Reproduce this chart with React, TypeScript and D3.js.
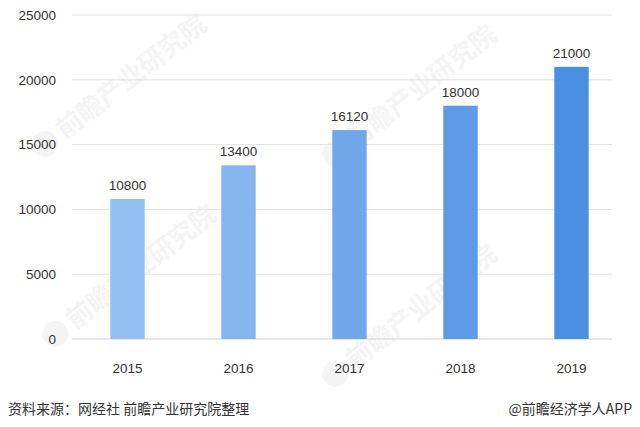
import React from "react";
import * as d3 from "d3";

const years = ["2015", "2016", "2017", "2018", "2019"];
const values = [10800, 13400, 16120, 18000, 21000];
const barColors = ["#94c0f1", "#86b5ee", "#71a7ea", "#5e9ae6", "#4b8fe3"];
const yTicks = [0, 5000, 10000, 15000, 20000, 25000];
const sourceText = "资料来源：网经社 前瞻产业研究院整理";
const brandText = "@前瞻经济学人APP";
const watermarkText = "前瞻产业研究院";

export default function App() {
  const W = 640, H = 427;
  const x = d3.scaleBand<string>().domain(years).range([72, 627]).paddingInner(0.69).paddingOuter(0.345);
  const y = d3.scaleLinear().domain([0, 25000]).range([339, 15]);
  const font = "'Liberation Sans', Arial, sans-serif";
  const cjk = "'Noto Sans CJK SC', sans-serif";
  const marks = [
    { x: 50, y: 140 }, { x: 340, y: 150 }, { x: 60, y: 330 }, { x: 340, y: 370 },
  ];
  return (
    <svg width={W} height={H} style={{ position: "absolute", left: 0, top: 0, background: "#fff" }}>
      <rect width={W} height={H} fill="#fff" />
      {marks.map((m, i) => (
        <g key={i} transform={`translate(${m.x},${m.y}) rotate(-38)`} opacity={0.07}>
          <circle cx={-6} cy={0} r={13} fill="#777" />
          <text x={12} y={9} fontFamily={cjk} fontSize={26} fill="#777" fontWeight="bold">{watermarkText}</text>
        </g>
      ))}
      {yTicks.map((t) => (
        <g key={t}>
          <line x1={72} x2={612} y1={y(t)} y2={y(t)} stroke={t === 0 ? "#d0d0d0" : "#e2e2e2"} strokeWidth={1} />
          <text x={56} y={y(t)} dy="0.35em" textAnchor="end" fontFamily={font} fontSize={13.5} fill="#333">{t}</text>
        </g>
      ))}
      {years.map((yr, i) => (
        <g key={yr}>
          <rect x={x(yr)} y={y(values[i])} width={x.bandwidth()} height={y(0) - y(values[i])} fill={barColors[i]} />
          <text x={(x(yr) as number) + x.bandwidth() / 2} y={y(values[i]) - 9} textAnchor="middle" fontFamily={font} fontSize={13.5} fill="#333">{values[i]}</text>
          <text x={(x(yr) as number) + x.bandwidth() / 2} y={368} dy="0.35em" textAnchor="middle" fontFamily={font} fontSize={13.5} fill="#333">{yr}</text>
        </g>
      ))}
      <text x={8} y={414} fontFamily={cjk} fontSize={14} fill="#333">{sourceText}</text>
      <text x={632} y={414} textAnchor="end" fontFamily={cjk} fontSize={14} fill="#333">{brandText}</text>
    </svg>
  );
}
